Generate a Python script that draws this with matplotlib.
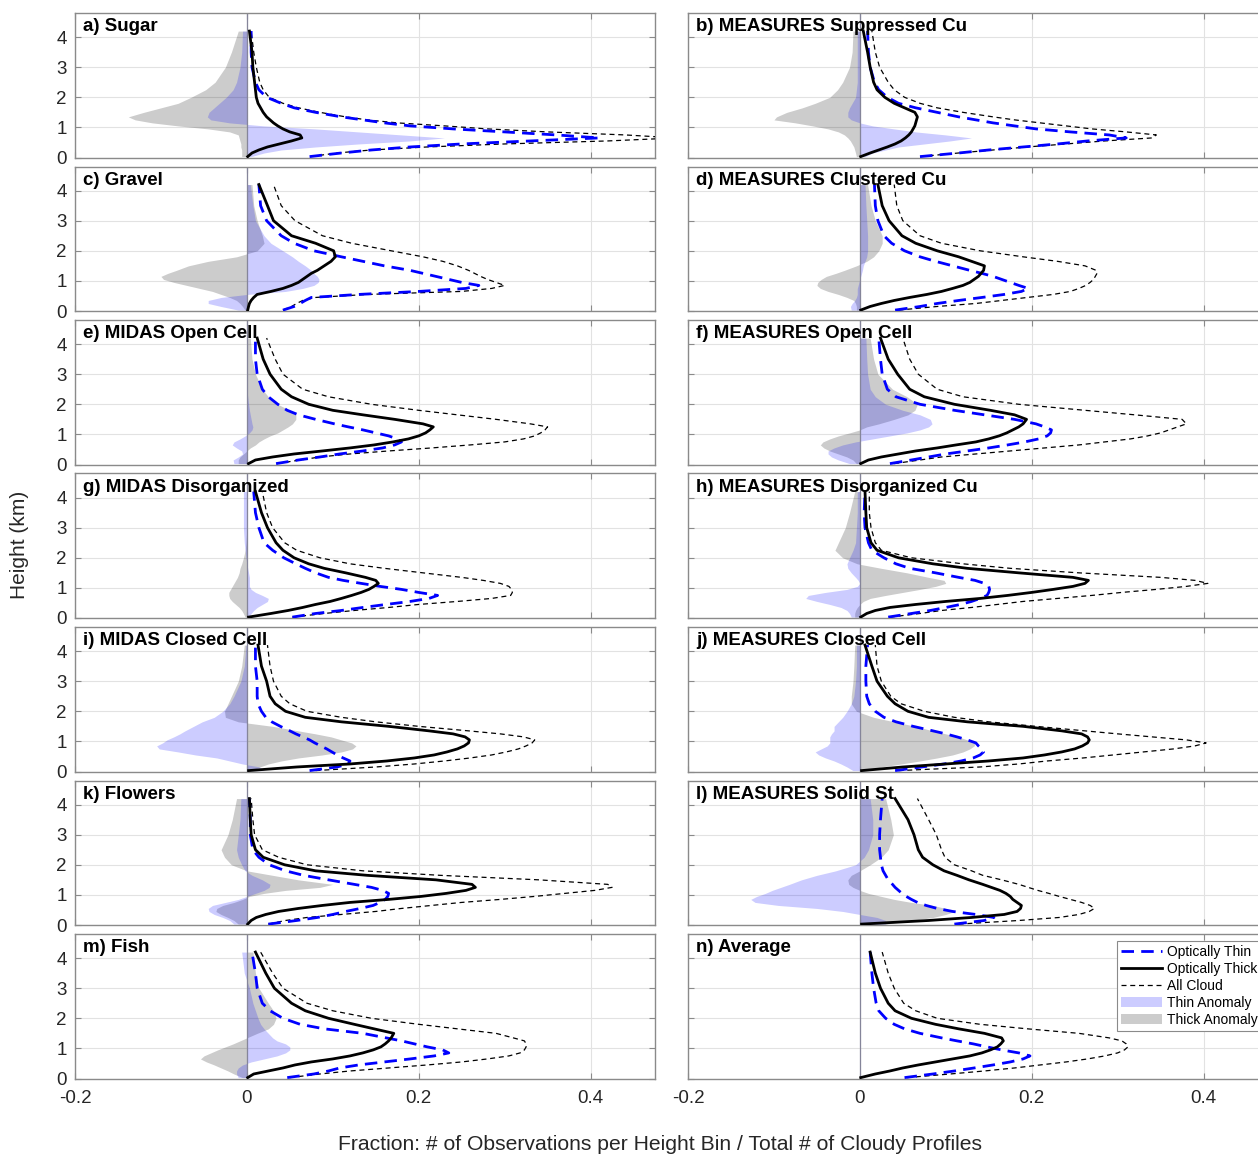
import numpy as np
import matplotlib
matplotlib.use("Agg")
import matplotlib.pyplot as plt

plt.rcParams['font.family'] = ['Liberation Sans', 'DejaVu Sans']
plt.rcParams['axes.unicode_minus'] = False

# height bins (km), shared by every profile
heights = [0.03, 0.15, 0.25, 0.35, 0.45, 0.55, 0.65, 0.75, 0.85, 0.95, 1.05, 1.15,
           1.25, 1.35, 1.5, 1.65, 1.8, 2.0, 2.25, 2.5, 3.0, 3.5, 4.2]

titles = ['a) Sugar', 'b) MEASURES Suppressed Cu', 'c) Gravel', 'd) MEASURES Clustered Cu',
          'e) MIDAS Open Cell', 'f) MEASURES Open Cell', 'g) MIDAS Disorganized',
          'h) MEASURES Disorganized Cu', 'i) MIDAS Closed Cell', 'j) MEASURES Closed Cell',
          'k) Flowers', 'l) MEASURES Solid St', 'm) Fish', 'n) Average']

# optically thin profiles
thin = [
    [0.073,0.11,0.145,0.19,0.25,0.33,0.41,0.36,0.30,0.24,0.19,0.16,0.135,0.11,0.08,0.055,0.04,0.023,0.014,0.01,0.006,0.005,0.005],
    [0.07,0.115,0.15,0.19,0.23,0.265,0.31,0.29,0.245,0.205,0.18,0.155,0.135,0.115,0.09,0.065,0.045,0.032,0.022,0.017,0.012,0.01,0.009],
    [0.042,0.055,0.062,0.068,0.075,0.13,0.2,0.255,0.27,0.25,0.235,0.22,0.205,0.19,0.16,0.135,0.11,0.078,0.055,0.04,0.023,0.016,0.014],
    [0.041,0.07,0.09,0.115,0.142,0.168,0.188,0.196,0.185,0.175,0.165,0.155,0.142,0.128,0.108,0.088,0.07,0.052,0.037,0.028,0.021,0.018,0.017],
    [0.034,0.06,0.085,0.108,0.135,0.158,0.172,0.18,0.175,0.165,0.15,0.135,0.118,0.102,0.08,0.06,0.047,0.036,0.025,0.018,0.012,0.01,0.01],
    [0.035,0.06,0.08,0.1,0.125,0.15,0.172,0.192,0.208,0.218,0.222,0.223,0.215,0.205,0.18,0.145,0.11,0.07,0.042,0.032,0.026,0.024,0.022],
    [0.053,0.08,0.11,0.135,0.162,0.19,0.212,0.222,0.2,0.18,0.155,0.133,0.112,0.095,0.08,0.068,0.057,0.043,0.03,0.02,0.014,0.01,0.008],
    [0.033,0.06,0.082,0.1,0.117,0.13,0.14,0.148,0.15,0.151,0.15,0.145,0.134,0.115,0.088,0.058,0.042,0.028,0.014,0.01,0.006,0.005,0.006],
    [0.073,0.105,0.118,0.12,0.112,0.105,0.099,0.093,0.086,0.079,0.073,0.065,0.057,0.05,0.039,0.029,0.022,0.017,0.013,0.012,0.012,0.01,0.01],
    [0.041,0.072,0.098,0.118,0.132,0.14,0.144,0.142,0.138,0.135,0.125,0.113,0.1,0.085,0.062,0.042,0.028,0.018,0.011,0.008,0.007,0.007,0.009],
    [0.025,0.058,0.082,0.1,0.115,0.132,0.147,0.155,0.161,0.164,0.165,0.158,0.145,0.125,0.095,0.066,0.045,0.026,0.014,0.007,0.004,0.004,0.003],
    [0.11,0.145,0.156,0.135,0.108,0.09,0.077,0.067,0.06,0.054,0.049,0.045,0.041,0.038,0.033,0.03,0.027,0.025,0.024,0.023,0.023,0.024,0.026],
    [0.047,0.078,0.095,0.108,0.13,0.16,0.19,0.218,0.235,0.228,0.21,0.195,0.18,0.162,0.135,0.09,0.062,0.042,0.027,0.018,0.012,0.01,0.006],
    [0.052,0.085,0.11,0.133,0.155,0.175,0.19,0.198,0.185,0.165,0.148,0.132,0.113,0.095,0.07,0.052,0.04,0.03,0.022,0.019,0.016,0.014,0.012],
]

# optically thick profiles
thick = [
    [0.001,0.006,0.014,0.024,0.038,0.052,0.064,0.062,0.05,0.042,0.036,0.031,0.027,0.023,0.019,0.016,0.013,0.011,0.01,0.009,0.007,0.006,0.003],
    [0.001,0.012,0.022,0.032,0.041,0.048,0.053,0.057,0.06,0.062,0.064,0.065,0.066,0.067,0.064,0.052,0.04,0.029,0.02,0.016,0.012,0.009,0.004],
    [0.001,0.002,0.003,0.005,0.008,0.012,0.028,0.042,0.052,0.06,0.065,0.07,0.075,0.082,0.09,0.098,0.103,0.101,0.08,0.052,0.031,0.024,0.014],
    [0.001,0.012,0.025,0.04,0.058,0.078,0.095,0.108,0.12,0.128,0.133,0.138,0.141,0.144,0.145,0.13,0.115,0.09,0.065,0.049,0.034,0.026,0.021],
    [0.002,0.01,0.03,0.055,0.088,0.12,0.148,0.17,0.188,0.2,0.208,0.213,0.217,0.205,0.172,0.135,0.1,0.072,0.052,0.04,0.027,0.019,0.012],
    [0.001,0.01,0.025,0.045,0.065,0.09,0.112,0.135,0.15,0.162,0.171,0.178,0.185,0.19,0.194,0.18,0.152,0.11,0.075,0.058,0.044,0.033,0.024],
    [0.002,0.028,0.048,0.065,0.08,0.097,0.11,0.122,0.133,0.142,0.148,0.153,0.15,0.138,0.115,0.09,0.072,0.055,0.042,0.034,0.024,0.017,0.01],
    [0.001,0.008,0.018,0.035,0.065,0.1,0.14,0.172,0.2,0.225,0.248,0.262,0.266,0.248,0.185,0.125,0.085,0.045,0.02,0.013,0.008,0.007,0.006],
    [0.002,0.058,0.12,0.163,0.195,0.218,0.233,0.245,0.253,0.258,0.259,0.254,0.24,0.212,0.165,0.11,0.068,0.045,0.033,0.027,0.023,0.017,0.013],
    [0.002,0.05,0.1,0.15,0.19,0.215,0.235,0.25,0.259,0.265,0.267,0.265,0.258,0.235,0.19,0.125,0.08,0.056,0.041,0.032,0.02,0.014,0.006],
    [0.001,0.005,0.011,0.022,0.037,0.06,0.088,0.12,0.165,0.203,0.232,0.255,0.266,0.262,0.22,0.14,0.08,0.044,0.019,0.01,0.005,0.004,0.003],
    [0.002,0.08,0.13,0.168,0.183,0.187,0.188,0.183,0.178,0.175,0.17,0.163,0.153,0.143,0.127,0.113,0.098,0.085,0.073,0.068,0.063,0.056,0.041],
    [0.001,0.008,0.025,0.042,0.056,0.075,0.1,0.12,0.135,0.147,0.156,0.161,0.165,0.168,0.171,0.148,0.125,0.095,0.068,0.052,0.032,0.022,0.01],
    [0.001,0.018,0.035,0.05,0.068,0.088,0.108,0.128,0.142,0.152,0.16,0.164,0.167,0.165,0.145,0.115,0.088,0.06,0.041,0.033,0.024,0.018,0.012],
]

# all cloud profiles
all_cloud = [
    [0.074,0.105,0.145,0.21,0.30,0.42,0.50,0.44,0.35,0.28,0.23,0.175,0.14,0.115,0.085,0.06,0.042,0.026,0.019,0.015,0.011,0.008,0.005],
    [0.07,0.115,0.155,0.195,0.24,0.285,0.34,0.345,0.31,0.27,0.24,0.21,0.18,0.155,0.12,0.09,0.07,0.052,0.04,0.033,0.023,0.018,0.014],
    [0.042,0.052,0.058,0.065,0.08,0.14,0.25,0.285,0.3,0.29,0.28,0.272,0.265,0.258,0.245,0.228,0.205,0.168,0.122,0.088,0.056,0.04,0.031],
    [0.045,0.09,0.135,0.165,0.195,0.225,0.245,0.255,0.263,0.268,0.272,0.274,0.276,0.275,0.262,0.23,0.19,0.14,0.095,0.07,0.05,0.043,0.04],
    [0.035,0.062,0.085,0.12,0.165,0.215,0.26,0.3,0.322,0.335,0.342,0.347,0.35,0.33,0.29,0.245,0.2,0.145,0.095,0.065,0.042,0.033,0.023],
    [0.04,0.07,0.095,0.135,0.175,0.215,0.255,0.285,0.315,0.335,0.35,0.36,0.37,0.38,0.375,0.32,0.262,0.185,0.12,0.09,0.068,0.058,0.05],
    [0.053,0.09,0.125,0.165,0.2,0.245,0.285,0.307,0.309,0.308,0.305,0.295,0.275,0.25,0.205,0.16,0.12,0.085,0.058,0.044,0.03,0.023,0.018],
    [0.035,0.07,0.095,0.13,0.16,0.19,0.23,0.27,0.305,0.345,0.38,0.405,0.39,0.35,0.255,0.175,0.12,0.06,0.025,0.018,0.013,0.011,0.011],
    [0.08,0.15,0.195,0.23,0.26,0.285,0.302,0.316,0.325,0.332,0.335,0.322,0.295,0.258,0.2,0.15,0.11,0.07,0.05,0.04,0.031,0.027,0.024],
    [0.045,0.14,0.185,0.218,0.26,0.295,0.33,0.365,0.39,0.403,0.38,0.34,0.3,0.262,0.205,0.15,0.11,0.075,0.048,0.036,0.025,0.02,0.018],
    [0.025,0.045,0.07,0.11,0.15,0.18,0.215,0.25,0.295,0.335,0.37,0.405,0.425,0.42,0.34,0.225,0.135,0.07,0.037,0.018,0.009,0.007,0.005],
    [0.115,0.185,0.232,0.255,0.267,0.273,0.268,0.258,0.245,0.232,0.22,0.207,0.196,0.185,0.165,0.143,0.13,0.11,0.099,0.095,0.089,0.08,0.067],
    [0.05,0.085,0.12,0.165,0.21,0.25,0.28,0.305,0.318,0.323,0.325,0.325,0.323,0.31,0.29,0.245,0.2,0.145,0.1,0.07,0.042,0.03,0.016],
    [0.055,0.105,0.145,0.18,0.21,0.24,0.265,0.285,0.3,0.308,0.312,0.31,0.305,0.29,0.255,0.195,0.14,0.09,0.065,0.051,0.04,0.033,0.026],
]

# anomalies relative to the average (panels a-m only)
thin_anom = [
    [0.005,0.02,0.04,0.08,0.13,0.19,0.23,0.18,0.13,0.08,0.02,-0.02,-0.042,-0.046,-0.044,-0.038,-0.032,-0.024,-0.016,-0.012,-0.008,-0.006,-0.005],
    [0.006,0.015,0.03,0.045,0.075,0.105,0.13,0.1,0.065,0.04,0.015,0.0,-0.01,-0.014,-0.014,-0.012,-0.009,-0.005,-0.004,-0.003,-0.003,-0.003,-0.003],
    [-0.01,-0.03,-0.045,-0.045,-0.03,0.0,0.045,0.065,0.078,0.083,0.084,0.082,0.078,0.075,0.068,0.06,0.053,0.042,0.028,0.02,0.01,0.007,0.004],
    [-0.01,-0.011,-0.009,-0.006,-0.004,-0.003,-0.003,-0.003,-0.002,-0.001,0.0,0.001,0.002,0.003,0.004,0.006,0.008,0.009,0.009,0.009,0.008,0.007,0.006],
    [-0.015,-0.016,-0.01,-0.005,-0.006,-0.012,-0.017,-0.015,-0.008,-0.002,0.003,0.006,0.007,0.006,0.005,0.004,0.003,0.002,0.001,0.0,0.0,0.0,0.0],
    [-0.012,-0.025,-0.033,-0.037,-0.037,-0.03,-0.02,-0.005,0.015,0.035,0.055,0.07,0.08,0.084,0.082,0.07,0.05,0.03,0.018,0.012,0.009,0.008,0.007],
    [0.002,0.005,0.008,0.012,0.018,0.024,0.025,0.018,0.01,0.005,0.003,0.003,0.003,0.003,0.002,0.001,0.0,-0.001,-0.002,-0.003,-0.004,-0.004,-0.004],
    [-0.01,-0.012,-0.015,-0.022,-0.035,-0.05,-0.063,-0.06,-0.04,-0.015,-0.003,0.0,-0.002,-0.005,-0.01,-0.014,-0.015,-0.012,-0.008,-0.005,-0.004,-0.003,-0.003],
    [0.02,0.015,-0.005,-0.02,-0.035,-0.06,-0.08,-0.102,-0.105,-0.098,-0.093,-0.085,-0.078,-0.072,-0.062,-0.052,-0.038,-0.028,-0.02,-0.015,-0.007,-0.003,-0.001],
    [-0.008,-0.015,-0.022,-0.03,-0.04,-0.048,-0.052,-0.045,-0.038,-0.035,-0.035,-0.035,-0.033,-0.03,-0.03,-0.025,-0.02,-0.015,-0.01,-0.007,-0.005,-0.004,-0.004],
    [-0.015,-0.02,-0.028,-0.038,-0.044,-0.045,-0.04,-0.025,-0.01,0.0,0.01,0.02,0.026,0.027,0.018,0.006,-0.002,-0.006,-0.01,-0.012,-0.01,-0.008,-0.007],
    [0.03,0.03,0.02,0.0,-0.02,-0.05,-0.095,-0.122,-0.127,-0.12,-0.11,-0.102,-0.092,-0.082,-0.068,-0.05,-0.028,-0.005,0.005,0.01,0.015,0.015,0.012],
    [-0.01,-0.012,-0.012,-0.01,-0.005,0.005,0.02,0.035,0.045,0.05,0.05,0.045,0.035,0.03,0.025,0.02,0.016,0.013,0.01,0.007,0.003,-0.003,-0.006],
]

thick_anom = [
    [-0.006,-0.006,-0.006,-0.007,-0.007,-0.008,-0.009,-0.01,-0.02,-0.045,-0.08,-0.11,-0.13,-0.138,-0.12,-0.1,-0.08,-0.065,-0.048,-0.037,-0.025,-0.018,-0.01],
    [-0.004,-0.005,-0.006,-0.007,-0.009,-0.011,-0.014,-0.018,-0.025,-0.037,-0.055,-0.075,-0.1,-0.097,-0.085,-0.067,-0.052,-0.035,-0.026,-0.02,-0.012,-0.009,-0.008],
    [-0.002,-0.005,-0.008,-0.012,-0.02,-0.03,-0.04,-0.055,-0.07,-0.085,-0.097,-0.1,-0.092,-0.082,-0.068,-0.045,-0.012,0.012,0.02,0.018,0.012,0.008,0.006],
    [-0.004,-0.004,-0.005,-0.007,-0.015,-0.025,-0.037,-0.046,-0.05,-0.049,-0.045,-0.039,-0.028,-0.018,-0.004,0.008,0.016,0.022,0.026,0.026,0.018,0.013,0.009],
    [-0.01,-0.01,-0.008,-0.004,0.0,0.004,0.01,0.014,0.02,0.027,0.036,0.042,0.048,0.053,0.057,0.057,0.05,0.036,0.025,0.018,0.01,0.006,0.004],
    [-0.004,-0.008,-0.015,-0.025,-0.035,-0.042,-0.046,-0.043,-0.035,-0.025,-0.012,0.0,0.008,0.022,0.04,0.056,0.064,0.067,0.055,0.038,0.021,0.016,0.012],
    [-0.002,-0.004,-0.006,-0.009,-0.013,-0.017,-0.02,-0.021,-0.021,-0.019,-0.017,-0.015,-0.013,-0.011,-0.009,-0.008,-0.006,-0.004,-0.002,-0.001,0.0,0.0,0.0],
    [-0.006,-0.006,-0.005,-0.003,0.0,0.004,0.012,0.03,0.05,0.07,0.088,0.1,0.098,0.08,0.055,0.025,-0.003,-0.02,-0.029,-0.025,-0.017,-0.012,-0.006],
    [0.005,0.015,0.025,0.04,0.06,0.088,0.11,0.123,0.127,0.122,0.11,0.098,0.08,0.06,0.03,-0.01,-0.025,-0.026,-0.022,-0.018,-0.01,-0.006,-0.003],
    [0.01,0.025,0.048,0.07,0.09,0.108,0.12,0.128,0.133,0.134,0.125,0.115,0.1,0.085,0.065,0.04,0.016,-0.004,-0.01,-0.01,-0.008,-0.007,-0.006],
    [-0.01,-0.015,-0.022,-0.03,-0.036,-0.035,-0.028,-0.015,-0.005,0.003,0.02,0.045,0.085,0.1,0.06,0.03,0.0,-0.018,-0.026,-0.03,-0.022,-0.017,-0.012],
    [0.03,0.06,0.085,0.1,0.11,0.1,0.085,0.06,0.04,0.025,0.01,0.0,-0.008,-0.013,-0.014,-0.01,0.0,0.012,0.025,0.033,0.039,0.036,0.03],
    [-0.005,-0.015,-0.022,-0.03,-0.038,-0.047,-0.054,-0.05,-0.042,-0.034,-0.025,-0.016,-0.008,0.0,0.012,0.025,0.031,0.034,0.031,0.025,0.014,0.01,0.007],
]

xticks = [-0.2, 0, 0.2, 0.4]
xticklabels = ['-0.2', '0', '0.2', '0.4']
yticks = [0, 1, 2, 3, 4]

W, H = 1258.0, 1155.0
fig = plt.figure(figsize=(12.58, 11.55), dpi=100)

h = np.array(heights)
handles = None
axes = []
for i in range(len(titles)):
    row, col = divmod(i, 2)
    left = 75 if col == 0 else 688
    top = 13 + 153.5 * row
    ax = fig.add_axes([left / W, 1 - (top + 144.5) / H, 580 / W, 144.5 / H])
    axes.append(ax)

    if i < len(thin_anom):
        f2 = ax.fill_betweenx(h, 0, thick_anom[i], color='black', alpha=0.2, lw=0)
        f1 = ax.fill_betweenx(h, 0, thin_anom[i], color='blue', alpha=0.2, lw=0)
    ax.axvline(0, color='#85859a', lw=0.9, zorder=2)
    l1, = ax.plot(thin[i], h, color='blue', lw=2.0, ls=(0, (4.5, 2.6)), zorder=4)
    l2, = ax.plot(thick[i], h, color='black', lw=2.0, zorder=5)
    l3, = ax.plot(all_cloud[i], h, color='black', lw=0.9, ls=(0, (4, 3)), zorder=3)
    if handles is None:
        handles = [l1, l2, l3, f1, f2]

    ax.set_xlim(-0.2, 0.475)
    ax.set_ylim(0, 4.8)
    ax.set_xticks(xticks)
    ax.set_yticks(yticks)
    ax.grid(True, color='#e2e2e2', lw=0.8)
    ax.set_axisbelow(True)
    ax.tick_params(direction='in', top=True, right=True, length=4, width=0.8,
                   color='#8a8a8a', labelsize=13.5, labelcolor='#262626')
    ax.tick_params(axis='x', pad=8)
    ax.tick_params(axis='y', pad=6)
    for s in ax.spines.values():
        s.set_color('#8a8a8a')
        s.set_linewidth(1.0)
    if row == 6:
        ax.set_xticklabels(xticklabels)
    else:
        ax.set_xticklabels([])
    if col == 1:
        ax.set_yticklabels([])
    ax.text(0.014, 0.965, titles[i], transform=ax.transAxes, ha='left', va='top',
            fontsize=13.5, fontweight='bold', color='black', zorder=10)

leg = axes[13].legend(handles, ['Optically Thin', 'Optically Thick', 'All Cloud',
                               'Thin Anomaly', 'Thick Anomaly'],
                      loc='upper left', bbox_to_anchor=(0.74, 0.955), fontsize=10,
                      handlelength=2.9, handletextpad=0.4, labelspacing=0.22,
                      borderpad=0.3, borderaxespad=0, fancybox=False, framealpha=1)
leg.get_frame().set_edgecolor('#8a8a8a')
leg.get_frame().set_linewidth(0.8)

fig.text(20 / W, 1 - 545 / H, 'Height (km)', rotation=90, ha='center', va='center',
         fontsize=15, color='#262626')
fig.text(660 / W, 1 - 1144 / H,
         'Fraction: # of Observations per Height Bin / Total # of Cloudy Profiles',
         ha='center', va='center', fontsize=15.2, color='#262626')

fig.savefig('out.png', dpi=100)
